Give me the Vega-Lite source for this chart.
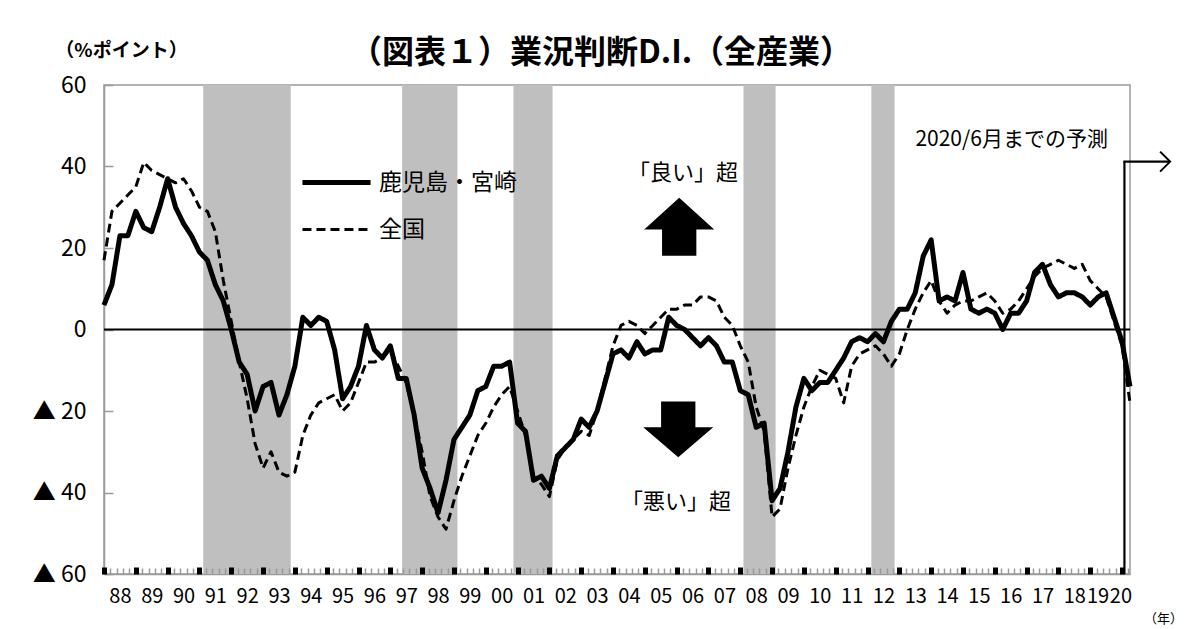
{
  "$schema": "https://vega.github.io/schema/vega-lite/v6.json",
  "width": 1026,
  "height": 489,
  "autosize": {"type": "none"},
  "padding": {"left": 104, "top": 85, "right": 71, "bottom": 55},
  "background": "white",
  "config": {
    "font": "Noto Sans CJK JP",
    "view": {"stroke": "#9a9a9a", "strokeWidth": 1.5}
  },
  "title": {
    "text": "（図表１）業況判断D.I.（全産業）",
    "fontSize": 32,
    "fontWeight": "bold",
    "color": "black",
    "anchor": "middle",
    "frame": "group",
    "dx": -16,
    "dy": 33
  },
  "datasets": {
    "di": [
      {"t": 1988.00, "鹿児島・宮崎": 6, "全国": 17},
      {"t": 1988.25, "鹿児島・宮崎": 11, "全国": 29},
      {"t": 1988.50, "鹿児島・宮崎": 23, "全国": 31},
      {"t": 1988.75, "鹿児島・宮崎": 23, "全国": 33},
      {"t": 1989.00, "鹿児島・宮崎": 29, "全国": 35},
      {"t": 1989.25, "鹿児島・宮崎": 25, "全国": 41},
      {"t": 1989.50, "鹿児島・宮崎": 24, "全国": 39},
      {"t": 1989.75, "鹿児島・宮崎": 30, "全国": 38},
      {"t": 1990.00, "鹿児島・宮崎": 37, "全国": 37},
      {"t": 1990.25, "鹿児島・宮崎": 30, "全国": 36},
      {"t": 1990.50, "鹿児島・宮崎": 26, "全国": 37},
      {"t": 1990.75, "鹿児島・宮崎": 23, "全国": 34},
      {"t": 1991.00, "鹿児島・宮崎": 19, "全国": 30},
      {"t": 1991.25, "鹿児島・宮崎": 17, "全国": 29},
      {"t": 1991.50, "鹿児島・宮崎": 11, "全国": 24},
      {"t": 1991.75, "鹿児島・宮崎": 7, "全国": 12},
      {"t": 1992.00, "鹿児島・宮崎": 0, "全国": 2},
      {"t": 1992.25, "鹿児島・宮崎": -8, "全国": -8},
      {"t": 1992.50, "鹿児島・宮崎": -11, "全国": -17},
      {"t": 1992.75, "鹿児島・宮崎": -20, "全国": -28},
      {"t": 1993.00, "鹿児島・宮崎": -14, "全国": -34},
      {"t": 1993.25, "鹿児島・宮崎": -13, "全国": -30},
      {"t": 1993.50, "鹿児島・宮崎": -21, "全国": -35},
      {"t": 1993.75, "鹿児島・宮崎": -16, "全国": -36},
      {"t": 1994.00, "鹿児島・宮崎": -9, "全国": -35},
      {"t": 1994.25, "鹿児島・宮崎": 3, "全国": -26},
      {"t": 1994.50, "鹿児島・宮崎": 1, "全国": -21},
      {"t": 1994.75, "鹿児島・宮崎": 3, "全国": -18},
      {"t": 1995.00, "鹿児島・宮崎": 2, "全国": -17},
      {"t": 1995.25, "鹿児島・宮崎": -5, "全国": -16},
      {"t": 1995.50, "鹿児島・宮崎": -17, "全国": -20},
      {"t": 1995.75, "鹿児島・宮崎": -14, "全国": -18},
      {"t": 1996.00, "鹿児島・宮崎": -9, "全国": -13},
      {"t": 1996.25, "鹿児島・宮崎": 1, "全国": -8},
      {"t": 1996.50, "鹿児島・宮崎": -5, "全国": -8},
      {"t": 1996.75, "鹿児島・宮崎": -7, "全国": -7},
      {"t": 1997.00, "鹿児島・宮崎": -4, "全国": -5},
      {"t": 1997.25, "鹿児島・宮崎": -12, "全国": -9},
      {"t": 1997.50, "鹿児島・宮崎": -12, "全国": -13},
      {"t": 1997.75, "鹿児島・宮崎": -21, "全国": -21},
      {"t": 1998.00, "鹿児島・宮崎": -34, "全国": -30},
      {"t": 1998.25, "鹿児島・宮崎": -39, "全国": -41},
      {"t": 1998.50, "鹿児島・宮崎": -45, "全国": -46},
      {"t": 1998.75, "鹿児島・宮崎": -37, "全国": -49},
      {"t": 1999.00, "鹿児島・宮崎": -27, "全国": -42},
      {"t": 1999.25, "鹿児島・宮崎": -24, "全国": -36},
      {"t": 1999.50, "鹿児島・宮崎": -21, "全国": -31},
      {"t": 1999.75, "鹿児島・宮崎": -15, "全国": -26},
      {"t": 2000.00, "鹿児島・宮崎": -14, "全国": -23},
      {"t": 2000.25, "鹿児島・宮崎": -9, "全国": -19},
      {"t": 2000.50, "鹿児島・宮崎": -9, "全国": -16},
      {"t": 2000.75, "鹿児島・宮崎": -8, "全国": -14},
      {"t": 2001.00, "鹿児島・宮崎": -23, "全国": -20},
      {"t": 2001.25, "鹿児島・宮崎": -25, "全国": -26},
      {"t": 2001.50, "鹿児島・宮崎": -37, "全国": -36},
      {"t": 2001.75, "鹿児島・宮崎": -36, "全国": -38},
      {"t": 2002.00, "鹿児島・宮崎": -39, "全国": -41},
      {"t": 2002.25, "鹿児島・宮崎": -31, "全国": -32},
      {"t": 2002.50, "鹿児島・宮崎": -29, "全国": -29},
      {"t": 2002.75, "鹿児島・宮崎": -27, "全国": -27},
      {"t": 2003.00, "鹿児島・宮崎": -22, "全国": -25},
      {"t": 2003.25, "鹿児島・宮崎": -24, "全国": -26},
      {"t": 2003.50, "鹿児島・宮崎": -20, "全国": -20},
      {"t": 2003.75, "鹿児島・宮崎": -13, "全国": -12},
      {"t": 2004.00, "鹿児島・宮崎": -6, "全国": -4},
      {"t": 2004.25, "鹿児島・宮崎": -5, "全国": 1},
      {"t": 2004.50, "鹿児島・宮崎": -7, "全国": 2},
      {"t": 2004.75, "鹿児島・宮崎": -3, "全国": 1},
      {"t": 2005.00, "鹿児島・宮崎": -6, "全国": -1},
      {"t": 2005.25, "鹿児島・宮崎": -5, "全国": 1},
      {"t": 2005.50, "鹿児島・宮崎": -5, "全国": 3},
      {"t": 2005.75, "鹿児島・宮崎": 3, "全国": 5},
      {"t": 2006.00, "鹿児島・宮崎": 1, "全国": 5},
      {"t": 2006.25, "鹿児島・宮崎": 0, "全国": 6},
      {"t": 2006.50, "鹿児島・宮崎": -2, "全国": 6},
      {"t": 2006.75, "鹿児島・宮崎": -4, "全国": 8},
      {"t": 2007.00, "鹿児島・宮崎": -2, "全国": 8},
      {"t": 2007.25, "鹿児島・宮崎": -4, "全国": 7},
      {"t": 2007.50, "鹿児島・宮崎": -8, "全国": 3},
      {"t": 2007.75, "鹿児島・宮崎": -8, "全国": 1},
      {"t": 2008.00, "鹿児島・宮崎": -15, "全国": -4},
      {"t": 2008.25, "鹿児島・宮崎": -16, "全国": -8},
      {"t": 2008.50, "鹿児島・宮崎": -24, "全国": -19},
      {"t": 2008.75, "鹿児島・宮崎": -23, "全国": -25},
      {"t": 2009.00, "鹿児島・宮崎": -42, "全国": -46},
      {"t": 2009.25, "鹿児島・宮崎": -39, "全国": -44},
      {"t": 2009.50, "鹿児島・宮崎": -30, "全国": -34},
      {"t": 2009.75, "鹿児島・宮崎": -19, "全国": -26},
      {"t": 2010.00, "鹿児島・宮崎": -12, "全国": -19},
      {"t": 2010.25, "鹿児島・宮崎": -15, "全国": -14},
      {"t": 2010.50, "鹿児島・宮崎": -13, "全国": -10},
      {"t": 2010.75, "鹿児島・宮崎": -13, "全国": -11},
      {"t": 2011.00, "鹿児島・宮崎": -10, "全国": -12},
      {"t": 2011.25, "鹿児島・宮崎": -7, "全国": -18},
      {"t": 2011.50, "鹿児島・宮崎": -3, "全国": -9},
      {"t": 2011.75, "鹿児島・宮崎": -2, "全国": -6},
      {"t": 2012.00, "鹿児島・宮崎": -3, "全国": -5},
      {"t": 2012.25, "鹿児島・宮崎": -1, "全国": -4},
      {"t": 2012.50, "鹿児島・宮崎": -3, "全国": -6},
      {"t": 2012.75, "鹿児島・宮崎": 2, "全国": -9},
      {"t": 2013.00, "鹿児島・宮崎": 5, "全国": -6},
      {"t": 2013.25, "鹿児島・宮崎": 5, "全国": 0},
      {"t": 2013.50, "鹿児島・宮崎": 9, "全国": 5},
      {"t": 2013.75, "鹿児島・宮崎": 18, "全国": 9},
      {"t": 2014.00, "鹿児島・宮崎": 22, "全国": 12},
      {"t": 2014.25, "鹿児島・宮崎": 7, "全国": 7},
      {"t": 2014.50, "鹿児島・宮崎": 8, "全国": 4},
      {"t": 2014.75, "鹿児島・宮崎": 7, "全国": 6},
      {"t": 2015.00, "鹿児島・宮崎": 14, "全国": 7},
      {"t": 2015.25, "鹿児島・宮崎": 5, "全国": 7},
      {"t": 2015.50, "鹿児島・宮崎": 4, "全国": 8},
      {"t": 2015.75, "鹿児島・宮崎": 5, "全国": 9},
      {"t": 2016.00, "鹿児島・宮崎": 4, "全国": 7},
      {"t": 2016.25, "鹿児島・宮崎": 0, "全国": 4},
      {"t": 2016.50, "鹿児島・宮崎": 4, "全国": 5},
      {"t": 2016.75, "鹿児島・宮崎": 4, "全国": 7},
      {"t": 2017.00, "鹿児島・宮崎": 7, "全国": 10},
      {"t": 2017.25, "鹿児島・宮崎": 14, "全国": 13},
      {"t": 2017.50, "鹿児島・宮崎": 16, "全国": 15},
      {"t": 2017.75, "鹿児島・宮崎": 11, "全国": 16},
      {"t": 2018.00, "鹿児島・宮崎": 8, "全国": 17},
      {"t": 2018.25, "鹿児島・宮崎": 9, "全国": 16},
      {"t": 2018.50, "鹿児島・宮崎": 9, "全国": 15},
      {"t": 2018.75, "鹿児島・宮崎": 8, "全国": 16},
      {"t": 2019.00, "鹿児島・宮崎": 6, "全国": 12},
      {"t": 2019.25, "鹿児島・宮崎": 8, "全国": 10},
      {"t": 2019.50, "鹿児島・宮崎": 9, "全国": 8},
      {"t": 2019.75, "鹿児島・宮崎": 3, "全国": 2},
      {"t": 2020.00, "鹿児島・宮崎": -3, "全国": -4},
      {"t": 2020.25, "鹿児島・宮崎": -14, "全国": -18}
    ],
    "recessions": [
      {"start": 1991.12, "end": 1993.87},
      {"start": 1997.37, "end": 1999.11},
      {"start": 2000.87, "end": 2002.10},
      {"start": 2008.10, "end": 2009.11},
      {"start": 2012.12, "end": 2012.85}
    ]
  },
  "layer": [
    {
      "data": {"name": "recessions"},
      "mark": {"type": "rect", "color": "#bfbfbf"},
      "encoding": {
        "x": {
          "field": "start",
          "type": "quantitative",
          "scale": {"domain": [1988, 2020.25], "nice": false, "zero": false},
          "axis": {
            "orient": "bottom",
            "values": [1988.5, 1989.5, 1990.5, 1991.5, 1992.5, 1993.5, 1994.5, 1995.5, 1996.5, 1997.5, 1998.5, 1999.5, 2000.5, 2001.5, 2002.5, 2003.5, 2004.5, 2005.5, 2006.5, 2007.5, 2008.5, 2009.5, 2010.5, 2011.5, 2012.5, 2013.5, 2014.5, 2015.5, 2016.5, 2017.5, 2018.5, 2019.23, 2019.95],
            "labelExpr": "format(floor(datum.value + 0.3) % 100, '02d')",
            "ticks": false,
            "grid": false,
            "domain": true,
            "domainColor": "#9a9a9a",
            "domainWidth": 1.5,
            "labelFontSize": 20,
            "labelColor": "black",
            "labelPadding": 12,
            "labelOverlap": false,
            "labelFlush": false,
            "labelBound": false,
            "title": "（年）",
            "titleX": 1059,
            "titleY": 44,
            "titleAlign": "center",
            "titleBaseline": "middle",
            "titleFontSize": 13,
            "titleFontWeight": "normal",
            "titleColor": "black"
          }
        },
        "x2": {"field": "end"}
      }
    },
    {
      "mark": {"type": "rule", "color": "black", "strokeWidth": 2},
      "data": {"values": [{"level": 0}]},
      "encoding": {
        "y": {"field": "level", "type": "quantitative"}
      }
    },
    {
      "data": {"name": "di"},
      "transform": [{"fold": ["鹿児島・宮崎", "全国"], "as": ["series", "value"]}],
      "mark": {"type": "line", "color": "black", "strokeJoin": "round"},
      "encoding": {
        "x": {
          "field": "t",
          "type": "quantitative",
          "scale": {"domain": [1988, 2020.25], "nice": false, "zero": false},
          "axis": {
            "orient": "bottom",
            "tickCount": 162,
            "labels": false,
            "domain": false,
            "grid": false,
            "ticks": true,
            "tickSize": -6,
            "tickColor": "#9a9a9a",
            "tickWidth": 1.5,
            "title": null,
            "zindex": 1
          }
        },
        "y": {
          "field": "value",
          "type": "quantitative",
          "scale": {"domain": [-60, 60], "nice": false},
          "axis": {
            "values": [-60, -40, -20, 0, 20, 40, 60],
            "labelExpr": "datum.value < 0 ? '▲ ' + abs(datum.value) : '' + datum.value",
            "grid": false,
            "domainColor": "#9a9a9a",
            "domainWidth": 1.5,
            "ticks": true,
            "tickSize": -9,
            "tickColor": "#9a9a9a",
            "tickWidth": 1.5,
            "labelFontSize": 23,
            "labelColor": "black",
            "labelPadding": 27,
            "labelFlush": false,
            "labelOverlap": false,
            "labelBound": false,
            "title": "（%ポイント）",
            "titleAngle": 0,
            "titleX": 17,
            "titleY": -35,
            "titleAlign": "center",
            "titleBaseline": "middle",
            "titleFontSize": 19,
            "titleFontWeight": "bold",
            "titleColor": "black"
          }
        },
        "strokeDash": {
          "field": "series",
          "type": "nominal",
          "scale": {"domain": ["鹿児島・宮崎", "全国"], "range": [[1, 0], [9, 5]]},
          "legend": {
            "title": null,
            "orient": "none",
            "legendX": 207,
            "legendY": 72,
            "symbolType": "M-1.48,0L1.48,0",
            "symbolSize": 2116,
            "symbolStrokeColor": "black",
            "symbolFillColor": "transparent",
            "labelFontSize": 23,
            "labelColor": "black",
            "labelOffset": 17,
            "rowPadding": 10
          }
        },
        "strokeWidth": {
          "field": "series",
          "type": "nominal",
          "scale": {"domain": ["鹿児島・宮崎", "全国"], "range": [5, 3]},
          "legend": {
            "title": null,
            "orient": "none",
            "legendX": 207,
            "legendY": 72,
            "symbolType": "M-1.48,0L1.48,0",
            "symbolSize": 2116,
            "symbolStrokeColor": "black",
            "symbolFillColor": "transparent",
            "labelFontSize": 23,
            "labelColor": "black",
            "labelOffset": 17,
            "rowPadding": 10
          }
        }
      }
    },
    {
      "data": {"values": [{"label": "2020/6月までの予測"}]},
      "mark": {"type": "text", "fontSize": 21, "color": "black", "align": "center", "baseline": "middle"},
      "encoding": {
        "x": {
          "datum": 2016.53,
          "type": "quantitative",
          "scale": {"domain": [1988, 2020.25], "nice": false, "zero": false},
          "axis": {
            "orient": "bottom",
            "tickCount": 33,
            "labels": false,
            "domain": false,
            "grid": false,
            "ticks": true,
            "tickSize": -7,
            "tickColor": "black",
            "tickWidth": 5,
            "title": null,
            "zindex": 1
          }
        },
        "y": {"datum": 46.5, "type": "quantitative"},
        "text": {"field": "label"}
      }
    },
    {
      "data": {"values": [{"label": "「良い」超"}]},
      "mark": {"type": "text", "fontSize": 22, "color": "black", "align": "center", "baseline": "middle"},
      "encoding": {
        "x": {"datum": 2006.2, "type": "quantitative", "scale": {"domain": [1988, 2020.25], "nice": false, "zero": false}, "axis": null},
        "y": {"datum": 38.4, "type": "quantitative"},
        "text": {"field": "label"}
      }
    },
    {
      "data": {"values": [{"label": "「悪い」超"}]},
      "mark": {"type": "text", "fontSize": 22, "color": "black", "align": "center", "baseline": "middle"},
      "encoding": {
        "x": {"datum": 2005.98, "type": "quantitative", "scale": {"domain": [1988, 2020.25], "nice": false, "zero": false}, "axis": null},
        "y": {"datum": -42.4, "type": "quantitative"},
        "text": {"field": "label"}
      }
    },
    {
      "data": {"values": [{"label": "up"}]},
      "mark": {"type": "point", "shape": "M0,-0.83L1,0.074L0.49,0.074L0.49,0.83L-0.49,0.83L-0.49,0.074L-1,0.074Z", "size": 4900, "filled": true, "color": "black", "opacity": 1},
      "encoding": {
        "x": {"datum": 2006.08, "type": "quantitative", "scale": {"domain": [1988, 2020.25], "nice": false, "zero": false}, "axis": null},
        "y": {"datum": 25.2, "type": "quantitative"}
      }
    },
    {
      "data": {"values": [{"label": "down"}]},
      "mark": {"type": "point", "shape": "M-0.49,-0.795L0.49,-0.795L0.49,-0.06L1,-0.06L0,0.795L-1,-0.06L-0.49,-0.06Z", "size": 4900, "filled": true, "color": "black", "opacity": 1},
      "encoding": {
        "x": {"datum": 2006.05, "type": "quantitative", "scale": {"domain": [1988, 2020.25], "nice": false, "zero": false}, "axis": null},
        "y": {"datum": -24.5, "type": "quantitative"}
      }
    },
    {
      "data": {"values": [{"label": "forecast"}]},
      "mark": {"type": "rule", "color": "black", "strokeWidth": 2.2},
      "encoding": {
        "x": {"datum": 2020.075, "type": "quantitative", "scale": {"domain": [1988, 2020.25], "nice": false, "zero": false}, "axis": null},
        "y": {"datum": -60, "type": "quantitative"},
        "y2": {"datum": 41.2}
      }
    },
    {
      "data": {"values": [{"label": "forecast"}]},
      "mark": {"type": "rule", "color": "black", "strokeWidth": 2.2},
      "encoding": {
        "x": {"datum": 2020.04, "type": "quantitative", "scale": {"domain": [1988, 2020.25], "nice": false, "zero": false}, "axis": null},
        "x2": {"datum": 2021.5},
        "y": {"datum": 41.2, "type": "quantitative"}
      }
    },
    {
      "data": {"values": [{"label": "forecast"}]},
      "mark": {"type": "point", "shape": "M-1,-1L0,0L-1,1", "size": 400, "filled": false, "color": "black", "strokeWidth": 2, "opacity": 1},
      "encoding": {
        "x": {"datum": 2021.51, "type": "quantitative", "scale": {"domain": [1988, 2020.25], "nice": false, "zero": false}, "axis": null},
        "y": {"datum": 41.2, "type": "quantitative"}
      }
    }
  ],
  "resolve": {"axis": {"x": "independent"}}
}
